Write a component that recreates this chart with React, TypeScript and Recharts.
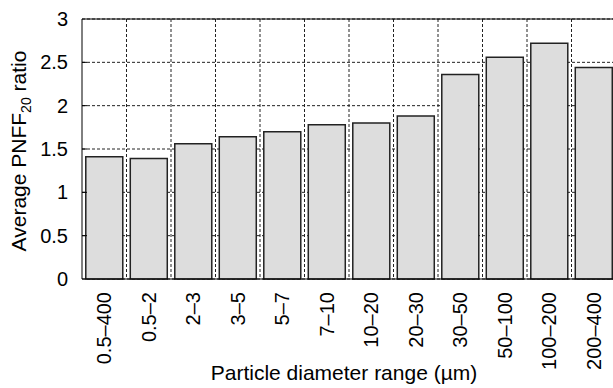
import { Bar, BarChart, CartesianGrid, ReferenceLine, XAxis, YAxis } from "recharts";

const ranges = ["0.5–400", "0.5–2", "2–3", "3–5", "5–7", "7–10", "10–20", "20–30", "30–50", "50–100", "100–200", "200–400"];
const pnffRatio = [1.41, 1.39, 1.56, 1.64, 1.7, 1.78, 1.8, 1.88, 2.36, 2.56, 2.72, 2.44];
const yTicks = [0, 0.5, 1, 1.5, 2, 2.5, 3];

const data = ranges.map((range, i) => ({ range, value: pnffRatio[i] }));

const FONT = "'Liberation Sans', Arial, sans-serif";

function YTick(props: any) {
  const { x, y, payload } = props;
  const axisX = x + 14;
  return (
    <g>
      <text x={x} y={y} dy="0.35em" textAnchor="end" fontSize={20} fontFamily={FONT} fill="#000">
        {payload.value}
      </text>
      {payload.value !== 0 && payload.value !== 3 && (
        <line x1={axisX} x2={axisX + 5} y1={y} y2={y} stroke="#000" strokeWidth={1} />
      )}
    </g>
  );
}

function XTick(props: any) {
  const { x, y, payload } = props;
  return (
    <text
      x={x}
      y={y}
      dy="0.36em"
      textAnchor="end"
      transform={`rotate(-90, ${x}, ${y})`}
      fontSize={20}
      fontFamily={FONT}
      fill="#000"
    >
      {payload.value}
    </text>
  );
}

function YLabel(props: any) {
  const { viewBox } = props;
  const cx = 26;
  const cy = viewBox.y + viewBox.height / 2 + 2;
  return (
    <text
      x={cx}
      y={cy}
      textAnchor="middle"
      transform={`rotate(-90, ${cx}, ${cy})`}
      fontSize={21}
      fontFamily={FONT}
      fill="#000"
    >
      Average PNFF
      <tspan fontSize={14} dy={5}>20</tspan>
      <tspan dy={-5}> ratio</tspan>
    </text>
  );
}

function XLabel(props: any) {
  const { viewBox } = props;
  return (
    <text
      x={viewBox.x + viewBox.width / 2 - 5}
      y={viewBox.y + viewBox.height - 8}
      textAnchor="middle"
      fontSize={21}
      fontFamily={FONT}
      fill="#000"
    >
      Particle diameter range (µm)
    </text>
  );
}

export default function App() {
  const n = ranges.length;
  return (
    <div
      style={{
        position: "fixed",
        left: 0,
        top: 0,
        width: 613,
        height: 388,
        overflow: "hidden",
        background: "#fff",
      }}
    >
      <BarChart
        width={640}
        height={388}
        data={data}
        margin={{ top: 19, right: 24, bottom: 0, left: 0 }}
        barCategoryGap="8.5%"
      >
        <CartesianGrid
          stroke="#222"
          strokeDasharray="3 2"
          verticalCoordinatesGenerator={({ offset }: any) =>
            Array.from({ length: n - 1 }, (_, i) => offset.left + ((i + 1) * offset.width) / n)
          }
        />
        <XAxis
          dataKey="range"
          interval={0}
          height={109}
          tickSize={0}
          tickMargin={13}
          tickLine={false}
          axisLine={{ stroke: "#000" }}
          tick={<XTick />}
          label={<XLabel />}
        />
        <YAxis
          domain={[0, 3]}
          ticks={yTicks}
          width={82}
          tickSize={0}
          tickMargin={14}
          tickLine={false}
          axisLine={{ stroke: "#000" }}
          tick={<YTick />}
          label={<YLabel />}
        />
        <ReferenceLine y={3} stroke="#000" strokeWidth={1} />
        <Bar dataKey="value" fill="#dddddd" stroke="#222" strokeWidth={1.5} isAnimationActive={false} />
      </BarChart>
    </div>
  );
}
